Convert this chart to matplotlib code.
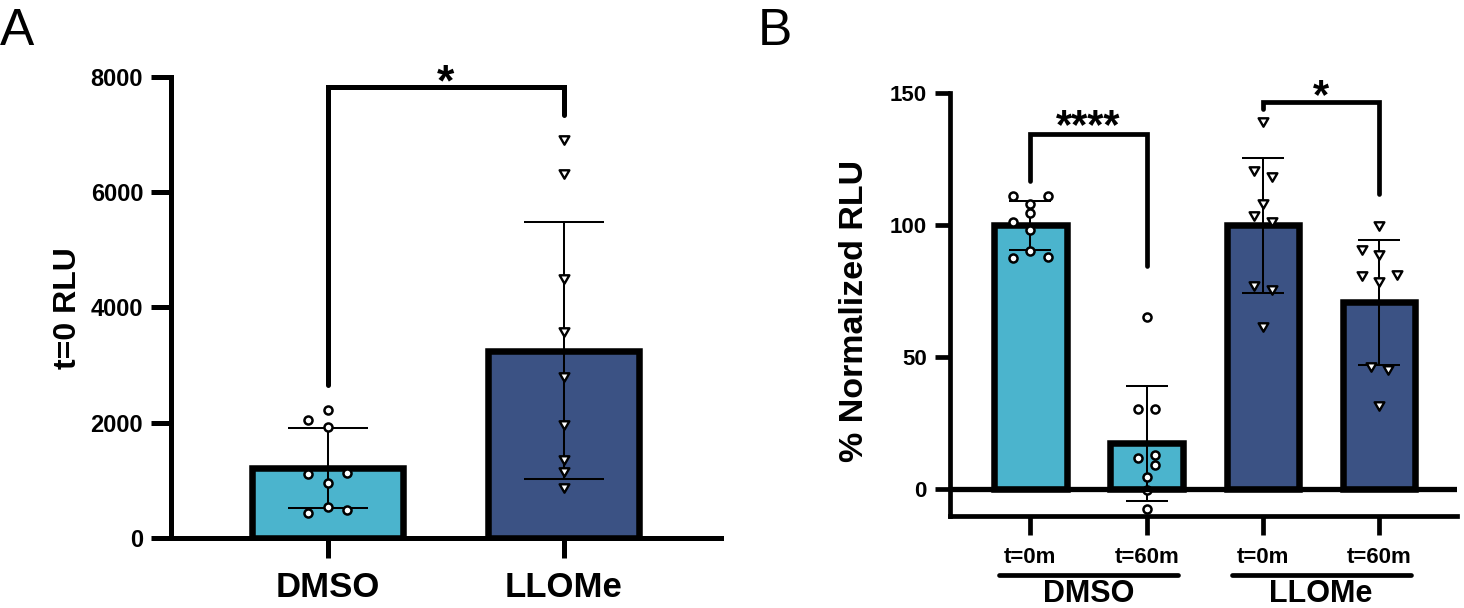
import matplotlib
matplotlib.use("Agg")
import matplotlib.pyplot as plt
from matplotlib.path import Path
import numpy as np

# ---------------- data ----------------
# Panel A
A_GROUPS = ["DMSO", "LLOMe"]
A_MEANS = [1213, 3252]
A_SD = [693, 2227]
A_DMSO_PTS = [2224, 2050, 1934, 1127, 1109, 964, 537, 491, 444]
A_LLOME_PTS = [6903, 6315, 4489, 3581, 2791, 1964, 1357, 1155, 877]
A_BRACKET = [7829, 2660, 7337]          # top, left-leg end, right-leg end
A_SIG = "*"
A_YTICKS = [0, 2000, 4000, 6000, 8000]
A_YLABEL = "t=0 RLU"

# Panel B
B_TICKLABELS = ["t=0m", "t=60m", "t=0m", "t=60m"]
B_GROUPS = ["DMSO", "LLOMe"]
B_MEANS = [100, 17.4, 100, 70.8]
B_SD = [9.25, 21.75, 25.45, 23.6]
B_DMSO_0 = [111, 111, 108.1, 104.7, 101.1, 98.4, 90.2, 87.7, 87.9]
B_DMSO_60 = [65.4, 30.3, 30.3, 12.9, 11.7, 9.2, 4.8, -0.3, -7.5]
B_LLOME_0 = [139.3, 120.7, 118.3, 108.1, 103.7, 101.2, 77.0, 75.4, 61.3]
B_LLOME_60 = [99.6, 90.8, 88.9, 81.0, 80.8, 78.5, 46.5, 45.3, 31.4]
B_BRACKET_TOPS = [134.5, 146.8]
B_BRACKET_LEFT = [116.9, 144.0]
B_BRACKET_RIGHT = [84.6, 111.9]
B_SIGS = ["****", "*"]
B_YTICKS = [0, 50, 100, 150]
B_YLABEL = "% Normalized RLU"

# ---------------- layout / style ----------------
CYAN = "#4BB4CD"
NAVY = "#3B5284"
# horizontal scatter columns (in units of a column step)
A_JIT = [[0, -1, 0, 1, -1, 0, 0, 1, -1], [0] * 9]
A_STEP = 0.082
B_JIT = [[-1, 1, 0, 0, -1, 0, 0, -1, 1],
         [0, -.5, .5, .5, -.5, .5, 0, 0, 0],
         [0, -.5, .5, 0, -.5, .5, -.5, .5, 0],
         [0, -1, 0, 1, -1, 0, -.5, .5, 0]]
B_STEP = 0.149

plt.rcParams["font.family"] = ["Liberation Sans", "DejaVu Sans"]
plt.rcParams["font.weight"] = "bold"

fig = plt.figure(figsize=(14.64, 6.08), dpi=100)

TRI = Path([(-1, 0.866), (1, 0.866), (0, -0.866), (-1, 0.866)], closed=True)
PT_STYLE = dict(linestyle="none", markerfacecolor="white",
                markeredgecolor="black", zorder=5, clip_on=False)
CIRC = dict(marker="o", markersize=5.8, markeredgewidth=1.8)
TRIS = dict(marker=TRI, markersize=7.0, markeredgewidth=1.7)


def style_axes(ax, spine_lw, ylen, xlen, ylabsize, xlabsize, xpad):
    for s in ["top", "right"]:
        ax.spines[s].set_visible(False)
    for s in ["left", "bottom"]:
        ax.spines[s].set_linewidth(spine_lw)
        ax.spines[s].set_capstyle("projecting")
    ax.tick_params(axis="y", length=ylen, width=spine_lw, pad=5.5,
                   labelsize=ylabsize)
    ax.tick_params(axis="x", length=xlen, width=spine_lw, pad=xpad,
                   labelsize=xlabsize)


# ======================= Panel A =======================
axA = fig.add_axes([0.11667, 0.11464, 0.37583, 0.75921])
xA = np.arange(len(A_GROUPS))
axA.bar(xA, A_MEANS, width=0.638, color=[CYAN, NAVY],
        edgecolor="black", linewidth=4.7, zorder=1)
axA.errorbar(xA, A_MEANS, yerr=A_SD, fmt="none", ecolor="black",
             elinewidth=1.45, capsize=28.8, capthick=1.45, zorder=3)
axA.plot(xA[0] + A_STEP * np.array(A_JIT[0]), A_DMSO_PTS, **CIRC, **PT_STYLE)
axA.plot(xA[1] + A_STEP * np.array(A_JIT[1]), A_LLOME_PTS, **TRIS, **PT_STYLE)
axA.plot([xA[0], xA[0], xA[1], xA[1]],
         [A_BRACKET[1], A_BRACKET[0], A_BRACKET[0], A_BRACKET[2]],
         color="black", lw=3.6, clip_on=False, solid_capstyle="round",
         solid_joinstyle="miter", zorder=4)
axA.annotate(A_SIG, xy=(xA.mean(), A_BRACKET[0]), xytext=(0, -6.4),
             textcoords="offset points", ha="center", va="baseline",
             fontsize=32, fontweight="bold", annotation_clip=False)
axA.set_xlim(-0.6654, 1.668)
axA.set_ylim(0, 8000)
axA.set_yticks(A_YTICKS)
axA.set_xticks(xA)
axA.set_xticklabels(A_GROUPS)
style_axes(axA, 3.6, 14.4, 14.4, 17, 25, 9.5)
fig.text(67.5 / 1464, 1 - 308.5 / 608, A_YLABEL, rotation=90, ha="center",
         va="center", fontsize=23, fontweight="bold")

# ======================= Panel B =======================
axB = fig.add_axes([0.64857, 0.15132, 0.34685, 0.69523])
xB = np.arange(len(B_TICKLABELS))
axB.bar(xB, B_MEANS, width=0.623, color=[CYAN, CYAN, NAVY, NAVY],
        edgecolor="black", linewidth=4.7, zorder=1)
axB.errorbar(xB, B_MEANS, yerr=B_SD, fmt="none", ecolor="black",
             elinewidth=1.45, capsize=14.8, capthick=1.45, zorder=3)
for i, (pts, mk) in enumerate(zip([B_DMSO_0, B_DMSO_60, B_LLOME_0, B_LLOME_60],
                                  [CIRC, CIRC, TRIS, TRIS])):
    axB.plot(xB[i] + B_STEP * np.array(B_JIT[i]), pts, **mk, **PT_STYLE)
axB.axhline(0, color="black", lw=3.8, zorder=6)
for k, (i0, i1) in enumerate([(0, 1), (2, 3)]):
    top = B_BRACKET_TOPS[k]
    axB.plot([xB[i0], xB[i0], xB[i1], xB[i1]],
             [B_BRACKET_LEFT[k], top, top, B_BRACKET_RIGHT[k]],
             color="black", lw=3.4, clip_on=False, solid_capstyle="round",
             solid_joinstyle="miter", zorder=4)
    dy = -2.7 if k == 0 else -4.5
    axB.annotate(B_SIGS[k], xy=((xB[i0] + xB[i1]) / 2, top), xytext=(0, dy),
                 textcoords="offset points", ha="center", va="baseline",
                 fontsize=30, fontweight="bold", annotation_clip=False)
axB.set_xlim(-0.695, 3.671)
axB.set_ylim(-10.1, 150)
axB.set_yticks(B_YTICKS)
axB.set_xticks(xB)
axB.set_xticklabels(B_TICKLABELS)
style_axes(axB, 3.4, 10.8, 13.5, 16, 16, 8.5)

trB = axB.get_xaxis_transform()
for g, (i0, i1) in zip(B_GROUPS, [(0, 1), (2, 3)]):
    c = (xB[i0] + xB[i1]) / 2
    axB.plot([c - 0.77, c + 0.77], [-0.1396, -0.1396], transform=trB,
             color="black", lw=3.4, solid_capstyle="round", clip_on=False)
    axB.text(c, -0.2035, g, transform=trB, ha="center", va="baseline",
             fontsize=22, fontweight="bold")
fig.text(855 / 1464, 1 - 310.5 / 608, B_YLABEL, rotation=90, ha="center",
         va="center", fontsize=24.5, fontweight="bold")

# panel letters
fig.text(0.0, 1 - 45 / 608, "A", fontsize=37, fontweight="normal",
         ha="left", va="baseline")
fig.text(758 / 1464, 1 - 45 / 608, "B", fontsize=37, fontweight="normal",
         ha="left", va="baseline")

fig.savefig("out.png", dpi=100)
